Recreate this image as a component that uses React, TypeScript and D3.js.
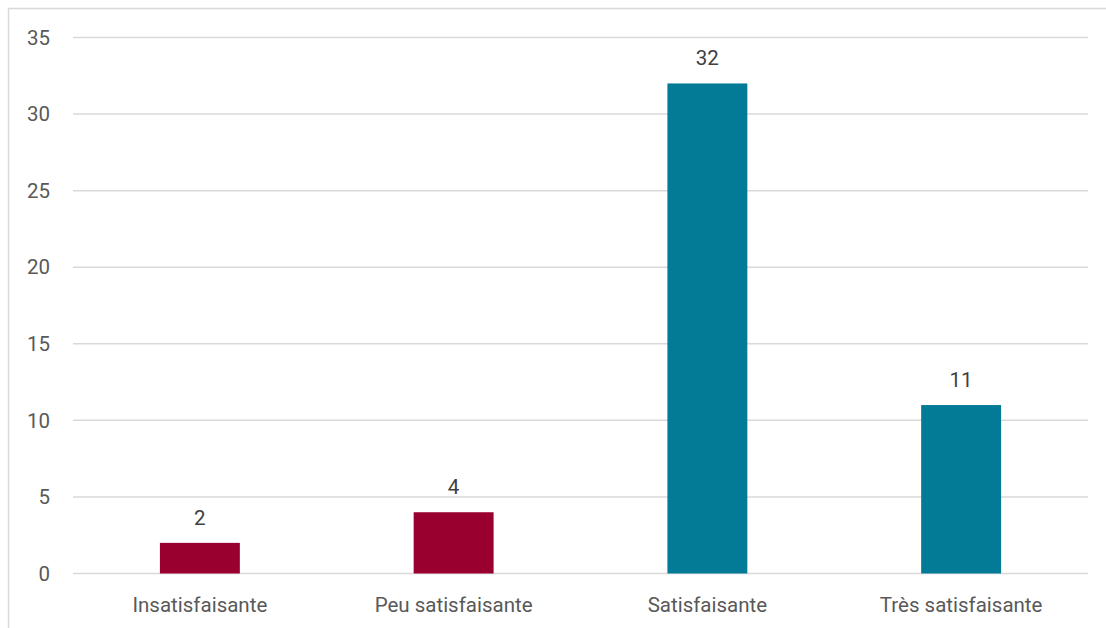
import React from "react";
import * as d3 from "d3";

const categories = ["Insatisfaisante", "Peu satisfaisante", "Satisfaisante", "Très satisfaisante"];
const values = [2, 4, 32, 11];
const barColors = ["#990030", "#990030", "#037A96", "#037A96"];
const yTicks = [0, 5, 10, 15, 20, 25, 30, 35];

export default function App() {
  const W = 1106, H = 628;
  const left = 73, right = 1088, top = 37.5, bottom = 573.5;
  const x = d3.scaleBand<string>().domain(categories).range([left, right]).paddingInner(0.685).paddingOuter(0.3425);
  const y = d3.scaleLinear().domain([0, 35]).range([bottom, top]);
  const font = "Roboto, 'Liberation Sans', Arial, sans-serif";
  const fs = 20.5;
  return (
    <svg width={W} height={H} style={{ position: "absolute", left: 0, top: 0 }}>
      <rect x={0} y={0} width={W} height={H} fill="#fff" />
      <rect x={8.5} y={8.5} width={1200} height={700} fill="#fff" stroke="#d9d9d9" strokeWidth={1.5} />
      {yTicks.map((t) => (
        <g key={t}>
          <line x1={left} x2={right} y1={y(t)} y2={y(t)} stroke="#d9d9d9" strokeWidth={1.5} />
          <text x={50} y={y(t)} dy="0.35em" textAnchor="end" fontFamily={font} fontSize={fs} fill="#595959">{t}</text>
        </g>
      ))}
      {categories.map((c, i) => (
        <g key={c}>
          <rect x={x(c)} y={y(values[i])} width={x.bandwidth()} height={y(0) - y(values[i])} fill={barColors[i]} />
          <text x={(x(c) as number) + x.bandwidth() / 2} y={y(values[i]) - 18} textAnchor="middle" fontFamily={font} fontSize={fs} fill="#404040">{values[i]}</text>
          <text x={(x(c) as number) + x.bandwidth() / 2} y={612} textAnchor="middle" fontFamily={font} fontSize={fs} fill="#595959">{c}</text>
        </g>
      ))}
    </svg>
  );
}
